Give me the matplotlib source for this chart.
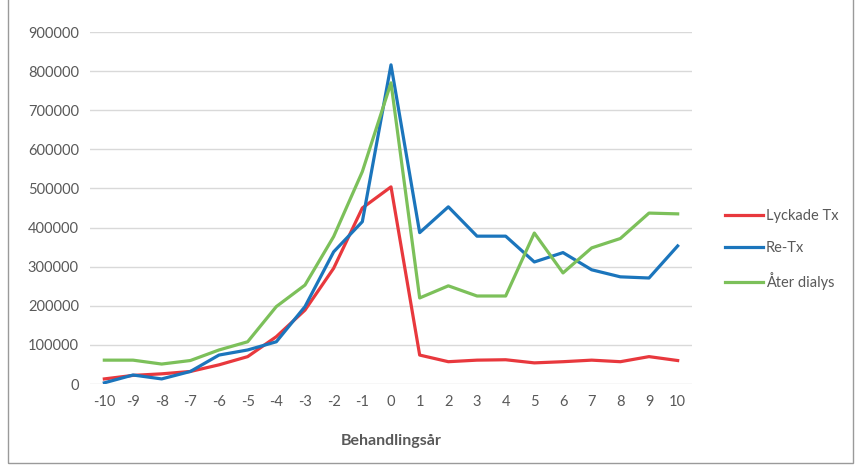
import numpy as np
import matplotlib.pyplot as plt
from matplotlib.patches import Rectangle

years = list(range(-10, 11))
lyckade_tx = [13000, 22000, 26000, 32000, 49000, 70000, 121000, 189000, 296000, 450000, 504000,
              74000, 57000, 61000, 62000, 54000, 57000, 61000, 57000, 70000, 60000]
re_tx = [3000, 23000, 13000, 32000, 74000, 87000, 108000, 198000, 338000, 415000, 816000,
         387000, 453000, 378000, 378000, 312000, 336000, 292000, 274000, 271000, 353000]
ater_dialys = [61000, 61000, 51000, 60000, 87000, 108000, 198000, 253000, 377000, 543000, 770000,
               220000, 251000, 225000, 225000, 386000, 284000, 348000, 372000, 437000, 435000]

plt.rcParams['font.family'] = ['Lato', 'DejaVu Sans']

fig = plt.figure(figsize=(8.55, 4.69), dpi=100)
ax = fig.add_axes([90 / 855, 1 - 384 / 469, 602 / 855, 352 / 469])

ax.plot(years, lyckade_tx, color='#E8383D', lw=2.3, label='Lyckade Tx')
ax.plot(years, re_tx, color='#1B75BC', lw=2.3, label='Re-Tx')
ax.plot(years, ater_dialys, color='#7CC05A', lw=2.3, label='Åter dialys')

ax.set_xlim(-10.5, 10.5)
ax.set_ylim(0, 900000)
ax.set_xticks(years)
ax.set_xticklabels([str(y) for y in years])
ax.set_yticks(np.arange(0, 900001, 100000))
ax.set_yticklabels([str(v) for v in range(0, 900001, 100000)])
ax.grid(axis='y', color='#D9D9D9', lw=1)
ax.set_axisbelow(True)
for s in ax.spines.values():
    s.set_visible(False)
ax.tick_params(length=0, labelsize=10.5, labelcolor='#595959', pad=8)
ax.set_xlabel('Behandlingsår', fontsize=11.5, fontweight='bold', color='#595959', labelpad=18)

fig.legend(loc='upper left', bbox_to_anchor=(712 / 855, 1 - 196 / 469), frameon=False,
           fontsize=10.5, labelcolor='#595959', handlelength=2.6, labelspacing=1.2,
           handletextpad=0.2)

fig.patches.append(Rectangle((8 / 855, 6 / 469), 845 / 855, 0.99, transform=fig.transFigure,
                             fill=False, edgecolor='#9A9A9A', lw=1))

fig.savefig('out.png', dpi=100)
